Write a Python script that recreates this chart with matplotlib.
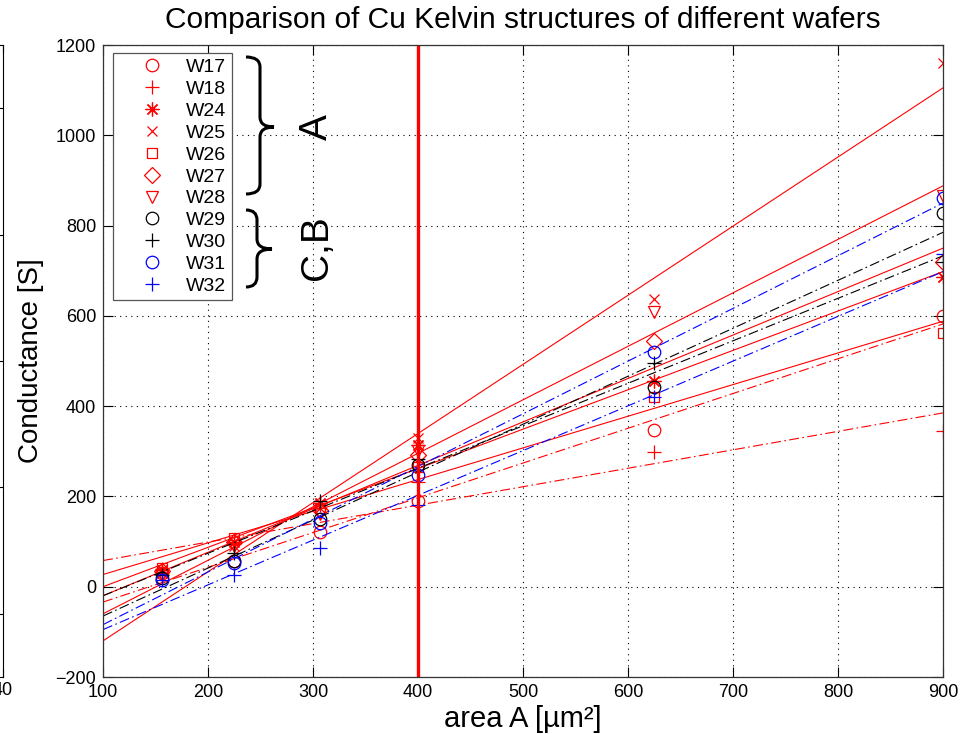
import numpy as np
import matplotlib.pyplot as plt
from matplotlib.lines import Line2D
from matplotlib.path import Path
from matplotlib.patches import PathPatch

plt.rcParams['font.family'] = ['Liberation Sans', 'DejaVu Sans']

# structure areas (12.5^2 ... 30^2 um^2)
area = [156.25, 225, 306.25, 400, 625, 900]

wafers = ['W17', 'W18', 'W24', 'W25', 'W26', 'W27', 'W28', 'W29', 'W30', 'W31', 'W32']

# measured conductance [S] per wafer
g_w17 = [30, 57, 122, 190, 348, 600]
g_w18 = [40, 95, 180, 232, 299, 345]
g_w24 = [38, 100, 185, 315, 455, 687]
g_w25 = [30, 90, 175, 330, 638, 1160]
g_w26 = [42, 108, 175, 265, 420, 563]
g_w27 = [35, 100, 170, 292, 545, 720]
g_w28 = [25, 90, 160, 300, 609, 866]
g_w29 = [20, 58, 150, 270, 443, 828]
g_w30 = [25, 75, 190, 283, 495, 720]
g_w31 = [15, 52, 142, 248, 520, 862]
g_w32 = [15, 25, 86, 182, 420, 737]

# linear fit lines, value at area 100 and 900
fit_x = [100, 900]
fit_w17 = [-34, 582]
fit_w18 = [58, 385]
fit_w24 = [0, 698]
fit_w25 = [-120, 1105]
fit_w26 = [27, 588]
fit_w27 = [-20, 750]
fit_w28 = [-60, 888]
fit_w29 = [-65, 785]
fit_w30 = [-20, 733]
fit_w31 = [-84, 850]
fit_w32 = [-95, 698]

data = [g_w17, g_w18, g_w24, g_w25, g_w26, g_w27, g_w28, g_w29, g_w30, g_w31, g_w32]
fits = [fit_w17, fit_w18, fit_w24, fit_w25, fit_w26, fit_w27, fit_w28, fit_w29, fit_w30, fit_w31, fit_w32]

colors = ['r'] * 7 + ['k'] * 2 + ['b'] * 2
ast = (8, 2, 0)  # matlab-like asterisk
markers = ['o', '+', ast, 'x', 's', 'D', 'v', 'o', '+', 'o', '+']
msizes = [9, 10, 10, 7, 7, 8, 9, 9, 10, 9, 10]
lstyles = ['dd', 'dd', '-', '-', '-', '-', '-', 'dd', 'dd', 'dd', 'dd']

W, H = 963, 734
fig = plt.figure(figsize=(W / 100, H / 100), dpi=100)


def fx(px):
    return px / W


def fy(py):
    return 1 - py / H


# sliver of the neighbouring subplot on the far left
axl = fig.add_axes([fx(-300), fy(677), fx(303), fy(45) - fy(677)])
axl.set_xlim(0, 40)
axl.set_ylim(0, 1)
axl.set_xticks([40])
axl.set_yticks([0.1, 0.3, 0.5, 0.7, 0.9])
axl.set_yticklabels([])
axl.tick_params(direction='in', right=True, top=True, labelsize=13, length=6)

ax = fig.add_axes([fx(103), fy(677), fx(943) - fx(103), fy(45) - fy(677)])

for g, f, c, m, ms, ls in zip(data, fits, colors, markers, msizes, lstyles):
    if ls == 'dd':
        ax.plot(fit_x, f, color=c, lw=0.8, dashes=(9, 3, 1.5, 3))
    else:
        ax.plot(fit_x, f, color=c, lw=0.8, ls='-')
    ax.plot(area, g, ls='none', marker=m, ms=ms, mfc='none', mec=c, mew=0.9)

ax.axvline(400, color='r', lw=2.4)

ax.set_xlim(100, 900)
ax.set_ylim(-200, 1200)
ax.set_xticks(np.arange(100, 901, 100))
ax.set_yticks(np.arange(-200, 1201, 200))
ax.grid(True, ls=(0, (1, 4)), color='k', lw=0.8)
ax.tick_params(direction='in', top=True, right=True, length=7, labelsize=13, pad=5)
for s in ax.spines.values():
    s.set_color('#333333')
    s.set_linewidth(0.9)

ax.set_xlabel('area A [µm²]', fontsize=21, labelpad=3)
ax.set_ylabel('Conductance [S]', fontsize=20, labelpad=8)
ax.set_title('Comparison of Cu Kelvin structures of different wafers', fontsize=21.5, pad=12)

handles = [Line2D([], [], ls='none', marker=m, ms=ms, mfc='none', mec=c, mew=0.9)
           for c, m, ms in zip(colors, markers, msizes)]
leg = ax.legend(handles, wafers, loc='upper left', bbox_to_anchor=(fx(113), fy(53)),
                bbox_transform=fig.transFigure, fontsize=14, labelspacing=0.22,
                handlelength=3.4, handletextpad=0.08, borderpad=0.28, borderaxespad=0,
                fancybox=False, framealpha=1, edgecolor='#555555')
leg.get_frame().set_linewidth(0.9)


def brace(x0, xv, xt, ytop, ymid, ybot, r=10):
    pts = [(x0, ytop), (xv, ytop), (xv, ytop + r),
           (xv, ymid - r), (xv, ymid), (xt, ymid),
           (xv, ymid), (xv, ymid + r),
           (xv, ybot - r), (xv, ybot), (x0, ybot)]
    codes = [Path.MOVETO, Path.CURVE3, Path.CURVE3,
             Path.LINETO, Path.CURVE3, Path.CURVE3,
             Path.CURVE3, Path.CURVE3,
             Path.LINETO, Path.CURVE3, Path.CURVE3]
    verts = [(fx(a), fy(b)) for a, b in pts]
    fig.patches.append(PathPatch(Path(verts, codes), transform=fig.transFigure,
                                 fill=False, lw=2.2, color='k'))


brace(246, 260, 274, 57, 127, 194)
brace(246, 257, 272, 210, 249, 287)

fig.text(fx(317), fy(127), 'A', fontsize=28, rotation=90, ha='center', va='center')
fig.text(fx(317), fy(248), 'C,B', fontsize=28, rotation=90, ha='center', va='center')

fig.savefig('out.png', dpi=100)
